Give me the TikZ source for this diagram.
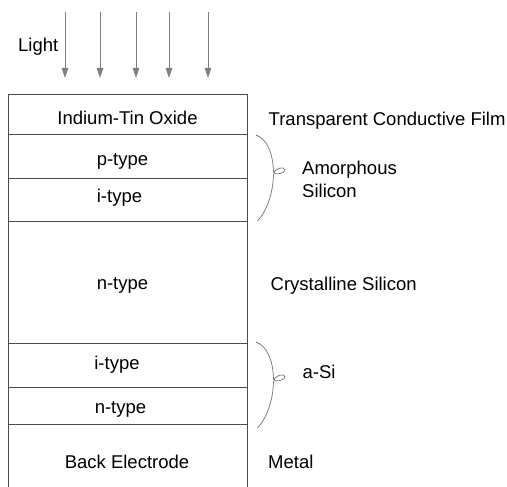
\documentclass[tikz,border=0pt]{standalone}
\usepackage{fontspec}
\setmainfont{Liberation Sans}
\usetikzlibrary{arrows.meta,positioning}

\tikzset{
  txt/.style={font=\fontsize{18.5}{22}\selectfont, inner sep=0pt},
  layertext/.style={txt, anchor=base},
  sidetext/.style={txt, anchor=base west},
  layerline/.style={draw=black!70, line width=0.9pt},
  curly/.style={draw=black!55, line width=0.7pt},
  ray/.style={draw=black!50, line width=0.8pt, -{Triangle[length=10pt,width=6.5pt]}}
}

\begin{document}
\begin{tikzpicture}[x=1pt,y=-1pt]
    \useasboundingbox (0,0) rectangle (507,487);

    % light rays
    \node[sidetext] (light) at (18,51.7) {Light};
    \foreach \x in {65,100,136,169,208}
        \draw[ray] (\x,12) -- (\x,78);

    % layer stack (open at the bottom)
    \draw[layerline] (8,487) -- (8,94) -- (247,94) -- (247,487);
    \foreach \y in {134,178.5,221,343.5,387,424}
        \draw[layerline] (8,\y) -- (247,\y);

    \node[layertext] (ito)    at (127.5,125) {Indium-Tin Oxide};
    \node[layertext] (ptop)   at (122.5,166) {p-type};
    \node[layertext] (itop)   at (119.5,203) {i-type};
    \node[layertext] (nbulk)  at (122.5,289) {n-type};
    \node[layertext] (ibot)   at (117,369)   {i-type};
    \node[layertext] (nbot)   at (120.5,413) {n-type};
    \node[layertext] (back)   at (127,468)   {Back Electrode};

    % braces
    \foreach \y in {135,342}
        \draw[curly] (256,\y) .. controls (267,\y+4) and (273,\y+18) .. (273.5,\y+37)
            .. controls (274,\y+41) and (286,\y+38) .. (285,\y+34.5)
            .. controls (284,\y+31) and (274,\y+33) .. (273.5,\y+40)
            .. controls (273,\y+58) and (267,\y+76) .. (257.5,\y+86);

    % side labels
    \node[sidetext] (film)    at (268.5,126) {Transparent Conductive Film};
    \node[sidetext] (amorph)  at (302,175)   {Amorphous};
    \node[sidetext] (silicon) at (302,197)   {Silicon};
    \node[sidetext] (cryst)   at (270.5,290) {Crystalline Silicon};
    \node[sidetext] (asi)     at (302.5,378) {a-Si};
    \node[sidetext] (metal)   at (268,468)   {Metal};
\end{tikzpicture}
\end{document}
